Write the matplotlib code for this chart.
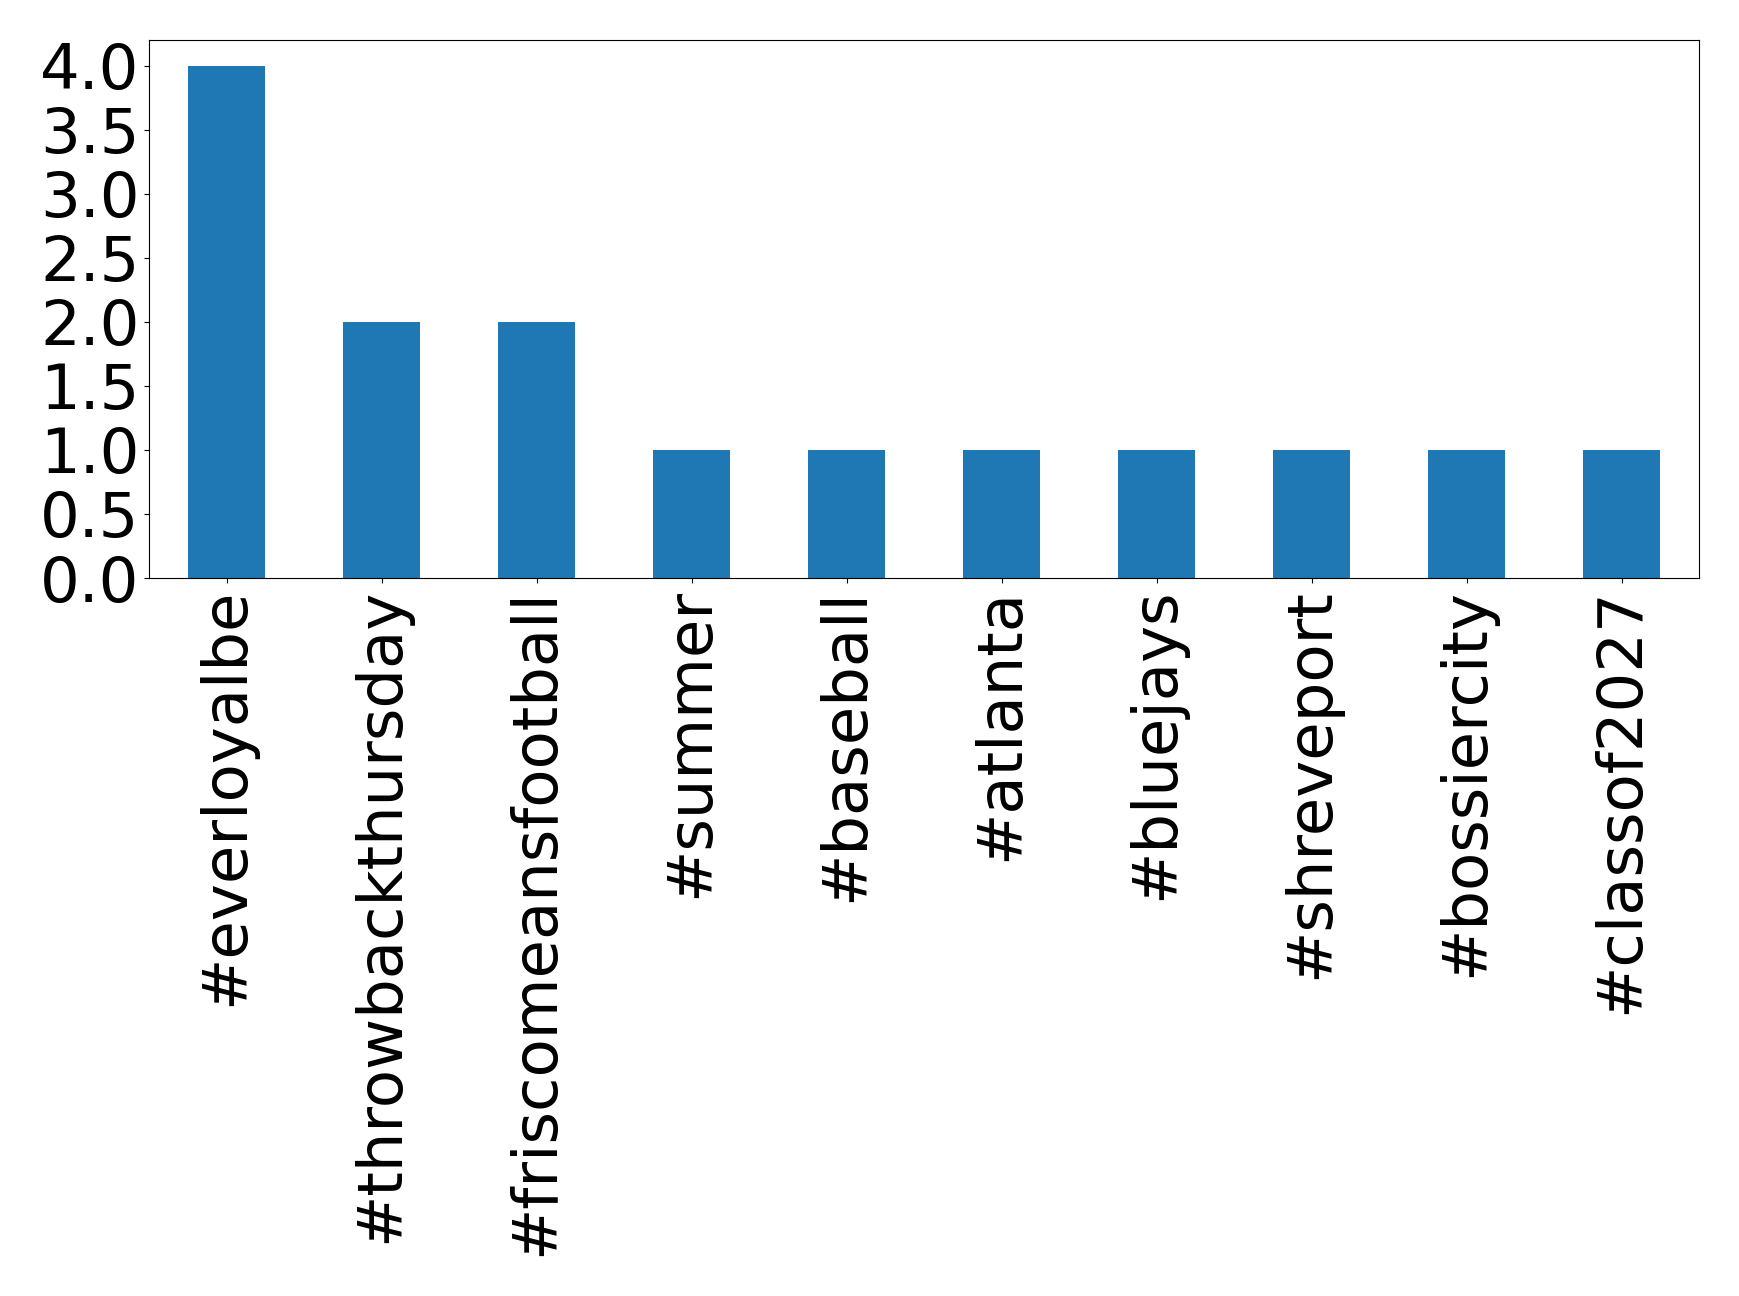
import matplotlib
matplotlib.use("Agg")
import pandas as pd
from matplotlib import pyplot as plt

hashtags = ['#everloyalbe', '#throwbackthursday', '#friscomeansfootball', '#summer',
            '#baseball', '#atlanta', '#bluejays', '#shreveport', '#bossiercity', '#classof2027']
counts = [4, 2, 2, 1, 1, 1, 1, 1, 1, 1]

counts_series = pd.Series(counts, index=hashtags)

fig = plt.figure(figsize=(17.39, 12.96), dpi=100)
ax = fig.add_axes([0.0857, 0.554, 0.8913, 0.415])
counts_series.plot(kind='bar', ax=ax, fontsize=45)

plt.savefig('out.png', dpi=100)
